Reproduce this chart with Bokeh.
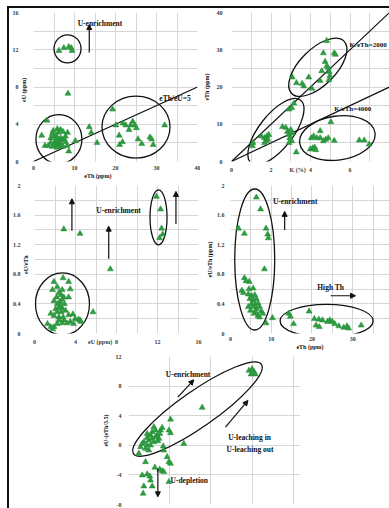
from math import radians
from bokeh.plotting import figure
from bokeh.models import (Range1d, FixedTicker, Label, Arrow, NormalHead, Div, Spacer,
                          LinearAxis, CustomJSTickFormatter)
from bokeh.layouts import column, row
from bokeh.embed import file_html
from bokeh.resources import INLINE

GREEN = "#2e9d40"
GRID = "#d6d6d6"
INK = "#111111"
TICK_INK = "#3a3a3a"
SERIF = "Liberation Serif"

# ---------------- data ----------------
# (a) eU vs eTh
a_eth = [6.2, 7.4, 8.6, 9.2, 9.4, 8.4,
         3.3, 2.0, 2.8, 3.6, 4.2, 4.8, 5.8, 6.6, 4.6, 5.0, 5.6, 6.2, 6.7, 5.4,
         5.8, 6.4, 7.1, 7.5, 5.0, 5.6, 6.2, 6.7, 7.8, 4.2, 4.6, 5.8, 7.2, 8.2,
         8.6, 10.2, 7.2, 8.3, 7.8, 6.0,
         13.6, 14.1, 15.5,
         19.3, 20.1, 20.9, 21.0, 21.7, 21.8, 22.5, 23.3, 23.7, 24.2, 24.7, 25.1,
         25.5, 26.4, 28.4, 28.8, 29.2, 32.0]
a_eu = [11.9, 12.2, 12.3, 12.2, 11.9, 7.3,
        4.4, 2.8, 1.7, 1.7, 2.5, 3.3, 3.5, 3.4, 3.0, 2.7, 2.7, 2.4, 2.5, 2.3,
        2.1, 2.0, 2.3, 2.4, 1.9, 1.7, 1.7, 1.8, 2.1, 2.0, 1.6, 1.5, 1.6, 1.7,
        1.1, 2.2, 3.2, 3.1, 2.7, 3.1,
        3.7, 3.1, 2.0,
        5.6, 3.9, 2.8, 1.8, 2.1, 4.1, 3.9, 3.4, 3.9, 4.3, 3.9, 3.6,
        2.4, 1.9, 2.6, 2.4, 1.8, 3.9]
a_ratio_line = 5          # eTh/eU

# (b) eTh vs K
b_k = [3.08, 3.29, 3.58, 3.66, 3.91, 4.07, 4.49, 4.57, 4.74, 4.82, 4.90, 4.95,
       4.98, 4.93, 5.20, 5.26, 4.65, 4.82,
       1.06, 1.09, 1.51, 1.67, 1.75, 1.79, 1.89, 1.84, 1.67, 2.58, 2.75, 2.83,
       2.91, 2.95, 3.00, 3.05, 2.91, 3.08, 2.91, 3.05, 3.28, 3.16,
       3.99, 4.11, 4.21, 4.27, 4.04, 4.16, 4.32, 4.49, 4.49, 4.65, 4.77, 4.90,
       5.03, 5.20, 6.47, 6.72, 6.97]
b_eth = [22.6, 21.1, 20.9, 20.2, 22.6, 19.6, 21.7, 24.3, 26.8, 25.6, 25.1, 24.1,
         23.0, 21.9, 29.1, 28.7, 29.1, 32.4,
         4.2, 5.0, 6.8, 6.3, 5.5, 6.8, 7.2, 5.9, 5.0, 9.3, 9.1, 8.0,
         7.2, 6.3, 8.5, 5.5, 5.0, 7.6, 14.0, 14.4, 2.5, 15.6,
         3.3, 3.6, 3.8, 3.1, 6.3, 6.8, 6.3, 8.2, 6.3, 5.5, 5.9, 6.3,
         10.6, 5.6, 5.7, 5.7, 4.6]
b_k_eth_lines = [2000, 4000]   # K/eTh

# (c) eU/eTh vs eU
c_eu = [2.79, 3.33, 1.90, 2.22, 1.75, 2.70, 3.49, 2.38, 2.60, 2.16, 2.86, 3.33,
        1.90, 2.48, 2.70, 2.22, 2.54, 2.92, 2.38, 2.70, 2.06, 2.22, 2.60, 3.02,
        1.59, 1.90, 2.38, 2.79, 3.33, 3.75, 3.97, 4.29, 4.44, 3.49, 3.17, 2.70,
        2.22, 1.90, 1.59, 1.27, 1.75, 3.81, 4.51, 2.38, 2.86,
        2.86, 4.44, 7.40, 5.71,
        11.9, 12.3, 12.4, 12.5, 12.2]
c_ratio = [0.75, 0.70, 0.70, 0.63, 0.59, 0.59, 0.60, 0.55, 0.52, 0.49, 0.49, 0.49,
           0.44, 0.43, 0.46, 0.40, 0.37, 0.40, 0.35, 0.34, 0.33, 0.29, 0.29, 0.31,
           0.27, 0.24, 0.22, 0.22, 0.25, 0.26, 0.20, 0.19, 0.18, 0.16, 0.14, 0.14,
           0.13, 0.09, 0.09, 0.13, 0.06, 0.13, 0.16, 0.18, 0.18,
           1.41, 1.35, 0.87, 0.29,
           1.85, 1.68, 1.42, 1.34, 1.29]

# (d) eU/eTh vs eTh
d_eth = [6.35, 7.38, 8.73, 9.13, 9.29, 1.98, 3.41, 8.33, 10.3,
         3.41, 3.80, 4.60, 2.78, 3.17, 4.52, 5.56, 4.37, 5.16, 5.95, 4.76, 5.56,
         6.35, 5.16, 5.95, 6.75, 5.56, 6.35, 7.14, 6.11, 7.54, 6.75, 5.79, 7.94,
         8.73, 4.37, 4.92, 7.14,
         14.3, 14.7, 15.5, 19.3, 20.6, 21.0, 21.7, 21.8, 22.6, 23.8, 24.4, 25.0,
         25.6, 26.6, 27.8, 28.6, 29.0, 32.1]
d_ratio = [1.84, 1.68, 1.42, 1.34, 1.29, 1.42, 1.35, 0.87, 0.21,
           0.75, 0.71, 0.70, 0.58, 0.55, 0.60, 0.61, 0.53, 0.51, 0.52, 0.47, 0.45,
           0.47, 0.40, 0.39, 0.41, 0.36, 0.33, 0.36, 0.29, 0.30, 0.24, 0.27, 0.27,
           0.14, 0.36, 0.31, 0.22,
           0.27, 0.23, 0.13, 0.30, 0.20, 0.11, 0.19, 0.09, 0.18, 0.16, 0.18, 0.16,
           0.13, 0.10, 0.08, 0.10, 0.07, 0.11]

# (e) eU-(eTh/3.5) vs eU
e_eu = [11.7, 12.0, 12.2, 12.3, 11.9,
        7.15, 4.08, 5.37,
        2.46, 2.30, 2.62, 2.14, 1.81, 1.97, 1.49, 2.30, 2.62, 2.78, 1.81, 1.17,
        1.33, 1.65, 2.14, 3.11, 3.04, 3.27, 3.43, 2.95, 3.92, 4.08, 1.97, 1.00,
        1.81, 2.46, 2.85, 3.37,
        1.65, 2.56, 3.04, 3.27, 3.43, 3.75, 3.92, 4.08, 3.92, 1.33, 1.81, 2.07,
        2.14, 1.49, 2.30, 1.42]
e_dev = [10.1, 10.3, 9.9, 9.6, 9.6,
         5.1, 3.5, 0.22,
         2.47, 1.80, 2.02, 1.35, 1.03, 0.67, 0.45, 0.90, 1.12, 1.35, 0.0, -0.22,
         0.22, -0.45, 0.0, 2.02, 1.57, 2.38, -0.67, 0.90, 2.02, 1.66, -0.67, -1.12,
         1.57, 0.45, 0.58, -0.13,
         -2.25, -3.0, -3.28, -3.46, -3.59, -1.57, -2.25, -2.47, -4.94, -4.04, -3.91, -4.18,
         -4.72, -5.53, -5.53, -6.51]


def plain_axis(ax, standoff, size="6px", color=TICK_INK):
    ax.axis_line_color = None
    ax.major_tick_line_color = None
    ax.minor_tick_line_color = None
    ax.major_tick_out = 0
    ax.major_tick_in = 0
    ax.minor_tick_out = 0
    ax.minor_tick_in = 0
    ax.major_label_text_font = SERIF
    ax.major_label_text_font_size = size
    ax.major_label_text_font_style = "bold"
    ax.major_label_text_color = color
    ax.major_label_standoff = standoff


def tick_formatter(extra=None):
    # numbers as plain text; an optional extra tick carries the axis name inline
    if extra is None:
        return CustomJSTickFormatter(code="return String(tick);")
    pos, name = extra
    return CustomJSTickFormatter(args=dict(pos=pos, name=name),
                                 code="return Math.abs(tick - pos) < 1e-9 ? name : String(tick);")


def panel(size, border, xr, yr, xmajor, xgrid, ymajor, ygrid, xstand, ystand,
          show_x=True, x_inline=None):
    w, h = size
    left, top, right, bottom = border
    p = figure(width=w, height=h, x_range=Range1d(*xr), y_range=Range1d(*yr),
               output_backend="svg", toolbar_location=None,
               min_border_left=left, min_border_right=right,
               min_border_top=top, min_border_bottom=bottom,
               background_fill_color="white", border_fill_color="white",
               outline_line_color=None, margin=0)
    p.title.visible = False
    xt = list(xmajor) + ([x_inline[0]] if x_inline else [])
    p.xaxis[0].ticker = FixedTicker(ticks=sorted(xt))
    p.xaxis[0].formatter = tick_formatter(x_inline)
    p.yaxis[0].ticker = FixedTicker(ticks=ymajor)
    p.yaxis[0].formatter = tick_formatter()
    plain_axis(p.xaxis[0], xstand)
    plain_axis(p.yaxis[0], ystand)
    if not show_x:
        p.xaxis.visible = False
    p.xgrid.ticker = FixedTicker(ticks=xgrid)
    p.ygrid.ticker = FixedTicker(ticks=ygrid)
    p.xgrid.grid_line_color = GRID
    p.ygrid.grid_line_color = GRID
    return p


def name_axis(p, side, pos, name, standoff, inner=False):
    # an axis carrying a single label: the axis name at a chosen position
    ax = LinearAxis(ticker=FixedTicker(ticks=[pos]),
                    formatter=CustomJSTickFormatter(args=dict(name=name), code="return name;"))
    plain_axis(ax, standoff, size="6px", color=INK)
    if side == "left":
        ax.major_label_orientation = "vertical"
        if inner:
            p.left = [ax] + list(p.left)
            return
    p.add_layout(ax, side)


def label_axis_title(ax, name, standoff):
    ax.axis_label = name
    ax.axis_label_text_font = SERIF
    ax.axis_label_text_font_size = "6px"
    ax.axis_label_text_font_style = "bold"
    ax.axis_label_text_color = INK
    ax.axis_label_standoff = standoff


def text(p, x, y, s, size="7.5px", align="center"):
    p.add_layout(Label(x=x, y=y, text=s, text_font=SERIF, text_font_size=size,
                       text_font_style="bold", text_align=align,
                       text_baseline="middle", text_color=INK))


def arrow(p, x0, y0, x1, y1):
    p.add_layout(Arrow(end=NormalHead(size=5, fill_color=INK, line_color=INK),
                       x_start=x0, y_start=y0, x_end=x1, y_end=y1,
                       line_color=INK, line_width=1.2))


def ring(p, cx, cy, w, h, ang=0.0):
    p.ellipse(x=[cx], y=[cy], width=[w], height=[h], angle=[radians(ang)],
              width_units="screen", height_units="screen",
              fill_color=None, line_color=INK, line_width=1.3)


def pts(p, xs, ys):
    p.scatter(xs, ys, marker="triangle", size=6, fill_color=GREEN,
              line_color="#238a35", line_width=0.5)


def steps(a, b, s):
    out, v = [], a
    while v <= b + 1e-9:
        out.append(round(v, 3))
        v += s
    return out


RATIO_TICKS = [0, 0.4, 0.8, 1.2, 1.6, 2]

# ---- (a) eU vs eTh ----
pa = panel((191, 173), (20, 4, 3, 18), (0, 40), (0, 16),
           [0, 10, 20, 30, 40], steps(0, 40, 5), [0, 4, 8, 12, 16], steps(0, 16, 2),
           4, 0)
name_axis(pa, "below", 15.7, "eTh (ppm)", 0)
name_axis(pa, "left", 7.7, "eU (ppm)", 6, inner=True)
pa.line([0, 40], [0, 40 / a_ratio_line], line_color=INK, line_width=1.2)
ring(pa, 8.3, 12.1, 27, 28)
ring(pa, 6.2, 2.4, 46, 49)
ring(pa, 25.0, 3.7, 68, 62)
pts(pa, a_eth, a_eu)
arrow(pa, 13.6, 11.7, 13.6, 14.7)
text(pa, 16.2, 14.8, "U-enrichment")
text(pa, 30.7, 6.8, "eTh/eU=5", align="left")

# ---- (b) eTh vs K ----
pb = panel((189, 173), (28, 4, 0, 13), (0, 8), (0, 40),
           [0, 2, 4, 6], steps(0, 8, 1), [0, 10, 20, 30, 40], steps(0, 40, 5),
           5, 9, x_inline=(3.35, "K (%)"))
label_axis_title(pb.yaxis[0], "eTh (ppm)", 4)
for r in b_k_eth_lines:
    pb.line([0, 8], [0, 8 * 10000 / r], line_color=INK, line_width=1.2)
ring(pb, 4.37, 25.3, 74, 36, 45)
ring(pb, 2.25, 8.0, 80, 34, 52)
ring(pb, 5.36, 6.3, 76, 44, 8)
pts(pb, b_k, b_eth)
text(pb, 5.98, 31.3, "K/eTh=2000", size="7px", align="left")
text(pb, 5.2, 14.2, "K/eTh=4000", size="7px", align="left")

# ---- (c) eU/eTh vs eU ----
pc = panel((194, 171), (21, 3, 5, 13), (0, 16), (0, 2),
           [0, 4, 8, 12, 16], steps(0, 16, 2), RATIO_TICKS, steps(0, 2, 0.2),
           5, 0, x_inline=(6.4, "eU (ppm)"))
name_axis(pc, "left", 0.93, "eU/eTh", 5, inner=True)
ring(pc, 2.73, 0.40, 54, 62)
ring(pc, 12.1, 1.57, 17, 55)
pts(pc, c_eu, c_ratio)
arrow(pc, 3.65, 1.39, 3.65, 1.82)
arrow(pc, 7.24, 1.01, 7.24, 1.45)
arrow(pc, 13.8, 1.48, 13.8, 1.92)
text(pc, 8.2, 1.66, "U-enrichment")

# ---- (d) eU/eTh vs eTh ----
pd = panel((186, 171), (22, 4, 0, 17), (0, 164 / 4.2), (0, 2),
           [0, 10, 20, 30], steps(0, 40, 5), RATIO_TICKS, steps(0, 2, 0.2),
           3, 6)
label_axis_title(pd.xaxis[0], "eTh (ppm)", 0)
label_axis_title(pd.yaxis[0], "eU/eTh (ppm)", 1)
ring(pd, 5.95, 1.0, 40, 141)
ring(pd, 23.6, 0.17, 93, 33)
pts(pd, d_eth, d_ratio)
arrow(pd, 13.3, 1.40, 13.3, 1.65)
arrow(pd, 24.6, 0.51, 30.7, 0.51)
text(pd, 15.9, 1.78, "U-enrichment")
text(pd, 24.6, 0.62, "High Th")

# ---- (e) eU-(eTh/3.5) vs eU ----
pe = panel((291, 156), (119, 4, 0, 4), (0, 172 / 10.3), (-8, 12),
           [0, 4, 8, 12, 16], [0, 4, 8, 12, 16], [-8, -4, 0, 4, 8, 12], steps(-8, 12, 4),
           7, 7, show_x=False)
label_axis_title(pe.yaxis[0], "eU-(eTh/3.5)", 4)
ring(pe, 6.7, 4.9, 156, 36, 35)
pts(pe, e_eu, e_dev)
arrow(pe, 4.79, 6.51, 6.34, 8.85)
arrow(pe, 9.42, 2.47, 11.6, 6.06)
arrow(pe, 2.85, -3.14, 2.85, -6.96)
text(pe, 5.78, 9.6, "U-enrichment")
text(pe, 11.75, 1.0, "U-leaching in")
text(pe, 11.8, -0.6, "U-leaching out")
text(pe, 4.08, -4.8, "U-depletion", align="left")

# outer frame lines of the plate
top_rule = Div(text="", width=382, height=2, margin=0, styles={"background-color": INK})
left_rule = Div(text="", width=2, height=500, margin=0, styles={"background-color": INK})

body = column(row(pa, pb, margin=0), row(pc, pd, margin=0), row(pe, margin=0), margin=0)
root = column(Spacer(width=389, height=6, margin=0),
              row(Spacer(width=7, height=2, margin=0), top_rule, margin=0),
              row(Spacer(width=7, height=500, margin=0), left_rule, body, margin=0),
              margin=0)

html = file_html(root, INLINE)
html = html.replace("</head>", "<style>html, body { margin: 0; padding: 0; }</style></head>", 1)
open("out.html", "w").write(html)
